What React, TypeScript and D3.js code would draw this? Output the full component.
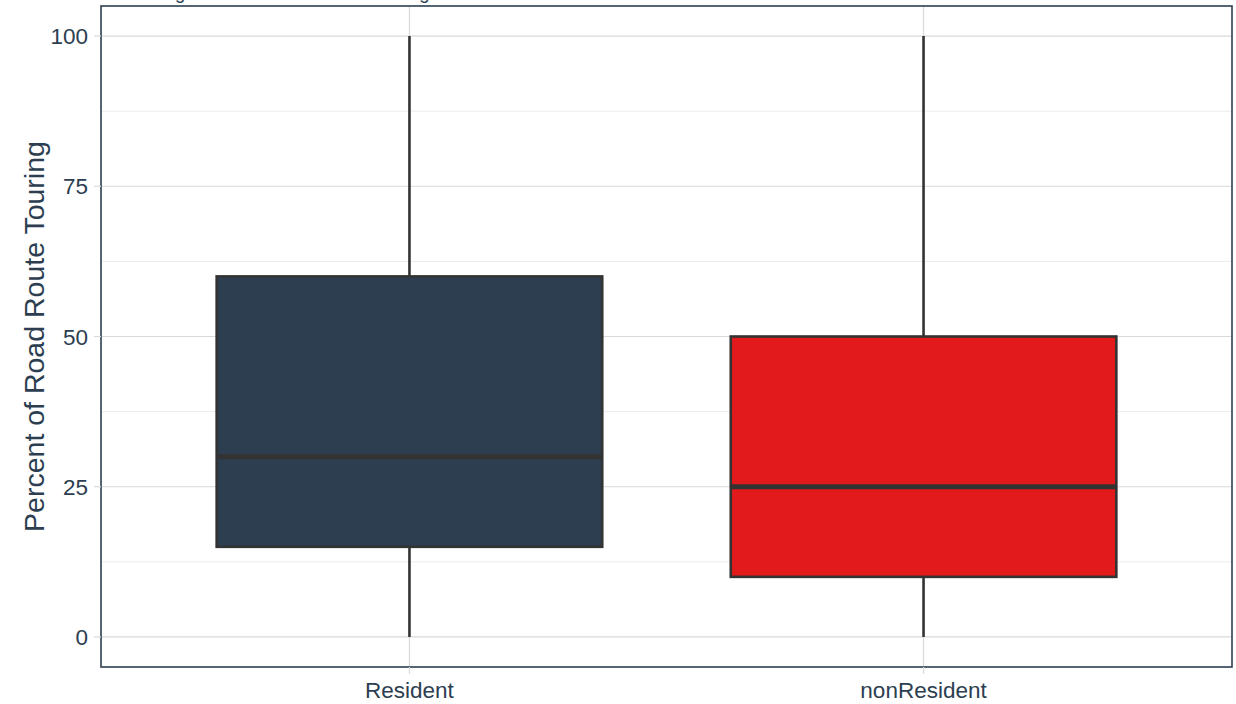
import React from "react";
import * as d3 from "d3";

const categories = ["Resident", "nonResident"];
const lowerWhisker = [0, 0];
const q1 = [15, 10];
const medians = [30, 25];
const q3 = [60, 50];
const upperWhisker = [100, 100];
const fills = ["#2C3E50", "#E31A1C"];
const yTicks = [0, 25, 50, 75, 100];
const yMinor = [12.5, 37.5, 62.5, 87.5];
const titleText = "Percentage of Total Road Route Touring";
const yTitle = "Percent of Road Route Touring";

const W = 1236;
const H = 704;
const panel = { left: 101, right: 1232, top: 6, bottom: 667 };
const textColor = "#2C3E50";

export default function App() {
  const y = d3.scaleLinear().domain([-5, 105]).range([panel.bottom, panel.top]);
  // ggplot-style discrete positions: expand 0.6 each side
  const xc = d3.scaleLinear().domain([0.4, categories.length + 0.6]).range([panel.left, panel.right]);
  const unit = xc(2) - xc(1);
  const boxW = unit * 0.75;

  return (
    <svg
      width={W}
      height={H}
      style={{ position: "absolute", left: 0, top: 0, background: "#fff", fontFamily: "Liberation Sans, Arial, sans-serif" }}
    >
      <text x={panel.left} y={-1.5} fontSize={18.5} fill={textColor}>
        {titleText}
      </text>
      {yMinor.map((v) => (
        <line key={"mn" + v} x1={panel.left} x2={panel.right} y1={y(v)} y2={y(v)} stroke="#ebebeb" strokeWidth={1} />
      ))}
      {yTicks.map((v) => (
        <line key={"mj" + v} x1={panel.left} x2={panel.right} y1={y(v)} y2={y(v)} stroke="#d9d9d9" strokeWidth={1.2} />
      ))}
      {categories.map((c, i) => (
        <line key={"vx" + c} x1={xc(i + 1)} x2={xc(i + 1)} y1={panel.top} y2={panel.bottom} stroke="#d9d9d9" strokeWidth={1.2} />
      ))}
      {categories.map((c, i) => {
        const cx = xc(i + 1);
        return (
          <g key={c}>
            <line x1={cx} x2={cx} y1={y(q3[i])} y2={y(upperWhisker[i])} stroke="#333333" strokeWidth={2.6} />
            <line x1={cx} x2={cx} y1={y(q1[i])} y2={y(lowerWhisker[i])} stroke="#333333" strokeWidth={2.6} />
            <rect
              x={cx - boxW / 2}
              y={y(q3[i])}
              width={boxW}
              height={y(q1[i]) - y(q3[i])}
              fill={fills[i]}
              stroke="#333333"
              strokeWidth={2.6}
            />
            <line x1={cx - boxW / 2} x2={cx + boxW / 2} y1={y(medians[i])} y2={y(medians[i])} stroke="#333333" strokeWidth={5} />
          </g>
        );
      })}
      <rect
        x={panel.left}
        y={panel.top}
        width={panel.right - panel.left}
        height={panel.bottom - panel.top}
        fill="none"
        stroke={textColor}
        strokeWidth={1.6}
      />
      {yTicks.map((v) => (
        <g key={"yt" + v}>
          <line x1={panel.left - 7} x2={panel.left} y1={y(v)} y2={y(v)} stroke="#d9d9d9" strokeWidth={1.2} />
          <text x={panel.left - 13} y={y(v)} dy="0.36em" textAnchor="end" fontSize={22.5} fill={textColor}>
            {v}
          </text>
        </g>
      ))}
      {categories.map((c, i) => (
        <g key={"xt" + c}>
          <line x1={xc(i + 1)} x2={xc(i + 1)} y1={panel.bottom} y2={panel.bottom + 7} stroke="#d9d9d9" strokeWidth={1.2} />
          <text x={xc(i + 1)} y={698} textAnchor="middle" fontSize={22.5} fill={textColor}>
            {c}
          </text>
        </g>
      ))}
      <text
        transform={`translate(44, ${(panel.top + panel.bottom) / 2}) rotate(-90)`}
        textAnchor="middle"
        fontSize={28.5}
        fill={textColor}
      >
        {yTitle}
      </text>
    </svg>
  );
}
